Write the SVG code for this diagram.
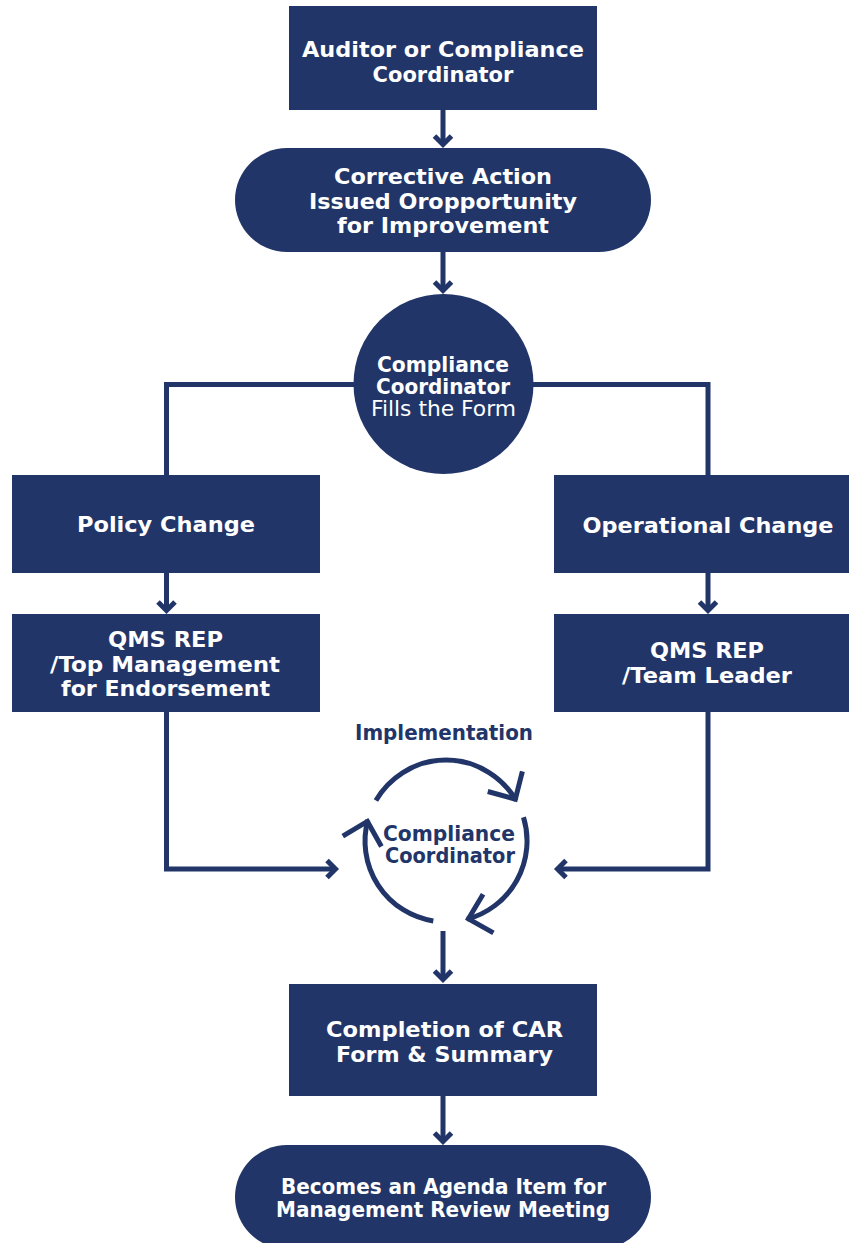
<svg xmlns="http://www.w3.org/2000/svg" width="849" height="1243" viewBox="0 0 849 1243">
  <style>
    .box { fill: #223568; }
    .lbl { font-family: "DejaVu Sans", "Liberation Sans", sans-serif; font-weight: 700; font-size: 21px; fill: #ffffff; text-anchor: middle; }
    .reg { font-weight: 400; }
    .dark { fill: #223568; }
    .wire { fill: none; stroke: #223568; stroke-width: 5; stroke-linejoin: miter; }
    .cyc { fill: none; stroke: #223568; stroke-width: 5; }
  </style>
  <defs>
    <!-- small open chevron for straight connectors -->
    <marker id="chev" markerUnits="userSpaceOnUse" viewBox="-16 -16 32 32" markerWidth="32" markerHeight="32" refX="-3" refY="0" orient="auto" overflow="visible">
      <path d="M-12,-8.5 L-3.5,0 L-12,8.5" fill="none" stroke="#223568" stroke-width="5" stroke-linejoin="miter"/>
    </marker>
    <!-- large open chevron for the cycle arcs -->
    <marker id="bigchev" markerUnits="userSpaceOnUse" viewBox="-30 -30 60 60" markerWidth="60" markerHeight="60" refX="0" refY="0" orient="auto" overflow="visible">
      <path d="M-22,-20 L-1.5,0 L-22,20" fill="none" stroke="#223568" stroke-width="5" stroke-linejoin="miter"/>
    </marker>
  </defs>

  <rect width="849" height="1243" fill="#ffffff"/>

  <!-- connectors -->
  <g id="connectors">
    <path class="wire" d="M443,110 V145" marker-end="url(#chev)"/>
    <path class="wire" d="M443,252 V291" marker-end="url(#chev)"/>
    <path class="wire" d="M166.5,475 V384.5 H708 V475"/>
    <path class="wire" d="M166.5,573 V611" marker-end="url(#chev)"/>
    <path class="wire" d="M708,573 V611" marker-end="url(#chev)"/>
    <path class="wire" d="M166.5,712 V869 H336" marker-end="url(#chev)"/>
    <path class="wire" d="M708,712 V869 H557" marker-end="url(#chev)"/>
    <path class="wire" d="M443,931 V980" marker-end="url(#chev)"/>
    <path class="wire" d="M443,1096 V1142" marker-end="url(#chev)"/>
  </g>

  <g id="auditor">
    <rect class="box" x="289" y="6" width="308" height="104"/>
    <text class="lbl" x="443" y="57" textLength="282" lengthAdjust="spacingAndGlyphs">Auditor or Compliance</text>
    <text class="lbl" x="443" y="82">Coordinator</text>
  </g>

  <g id="corrective-action">
    <rect class="box" x="235" y="148" width="416" height="104" rx="52"/>
    <text class="lbl" x="443" y="184" textLength="218" lengthAdjust="spacingAndGlyphs">Corrective Action</text>
    <text class="lbl" x="443" y="209" textLength="268" lengthAdjust="spacingAndGlyphs">Issued Oropportunity</text>
    <text class="lbl" x="443" y="233" textLength="212" lengthAdjust="spacingAndGlyphs">for Improvement</text>
  </g>

  <g id="fills-form">
    <circle class="box" cx="443.5" cy="384" r="90"/>
    <text class="lbl" x="443" y="372" font-size="19" textLength="132" lengthAdjust="spacingAndGlyphs">Compliance</text>
    <text class="lbl" x="443" y="394" font-size="19" textLength="134" lengthAdjust="spacingAndGlyphs">Coordinator</text>
    <text class="lbl reg" x="443.5" y="416" font-size="19" textLength="145" lengthAdjust="spacingAndGlyphs">Fills the Form</text>
  </g>

  <g id="policy-change">
    <rect class="box" x="12" y="475" width="308" height="98"/>
    <text class="lbl" x="166" y="532" textLength="178" lengthAdjust="spacingAndGlyphs">Policy Change</text>
  </g>

  <g id="operational-change">
    <rect class="box" x="554" y="475" width="308" height="98"/>
    <text class="lbl" x="708" y="533" textLength="251" lengthAdjust="spacingAndGlyphs">Operational Change</text>
  </g>

  <g id="qms-top-management">
    <rect class="box" x="12" y="614" width="308" height="98"/>
    <text class="lbl" x="165.5" y="647" textLength="115" lengthAdjust="spacingAndGlyphs">QMS REP</text>
    <text class="lbl" x="165" y="672" textLength="230" lengthAdjust="spacingAndGlyphs">/Top Management</text>
    <text class="lbl" x="165.5" y="696" textLength="209" lengthAdjust="spacingAndGlyphs">for Endorsement</text>
  </g>

  <g id="qms-team-leader">
    <rect class="box" x="554" y="614" width="308" height="98"/>
    <text class="lbl" x="707" y="658" textLength="114" lengthAdjust="spacingAndGlyphs">QMS REP</text>
    <text class="lbl" x="707" y="683" textLength="170" lengthAdjust="spacingAndGlyphs">/Team Leader</text>
  </g>

  <g id="implementation">
    <text class="lbl dark" x="444" y="740" font-size="20" textLength="178" lengthAdjust="spacingAndGlyphs">Implementation</text>
    <path class="cyc" d="M375.9,800.5 A81,81 0 0 1 516.1,800.5" marker-end="url(#bigchev)"/>
    <path class="cyc" d="M523.5,817.3 A81,81 0 0 1 467,919.2" marker-end="url(#bigchev)"/>
    <path class="cyc" d="M433.3,921 A81,81 0 0 1 367.8,820" marker-end="url(#bigchev)"/>
    <text class="lbl dark" x="449" y="841" font-size="19" textLength="132" lengthAdjust="spacingAndGlyphs">Compliance</text>
    <text class="lbl dark" x="450" y="863" font-size="19" textLength="130" lengthAdjust="spacingAndGlyphs">Coordinator</text>
  </g>

  <g id="completion">
    <rect class="box" x="289" y="984" width="308" height="112"/>
    <text class="lbl" x="444.5" y="1037" textLength="237" lengthAdjust="spacingAndGlyphs">Completion of CAR</text>
    <text class="lbl" x="444.5" y="1062" textLength="217" lengthAdjust="spacingAndGlyphs">Form &amp; Summary</text>
  </g>

  <g id="agenda-item">
    <rect class="box" x="235" y="1145" width="416" height="104" rx="52"/>
    <text class="lbl" x="443.5" y="1194" font-size="20" textLength="325" lengthAdjust="spacingAndGlyphs">Becomes an Agenda Item for</text>
    <text class="lbl" x="443" y="1217" font-size="20" textLength="334" lengthAdjust="spacingAndGlyphs">Management Review Meeting</text>
  </g>
</svg>
